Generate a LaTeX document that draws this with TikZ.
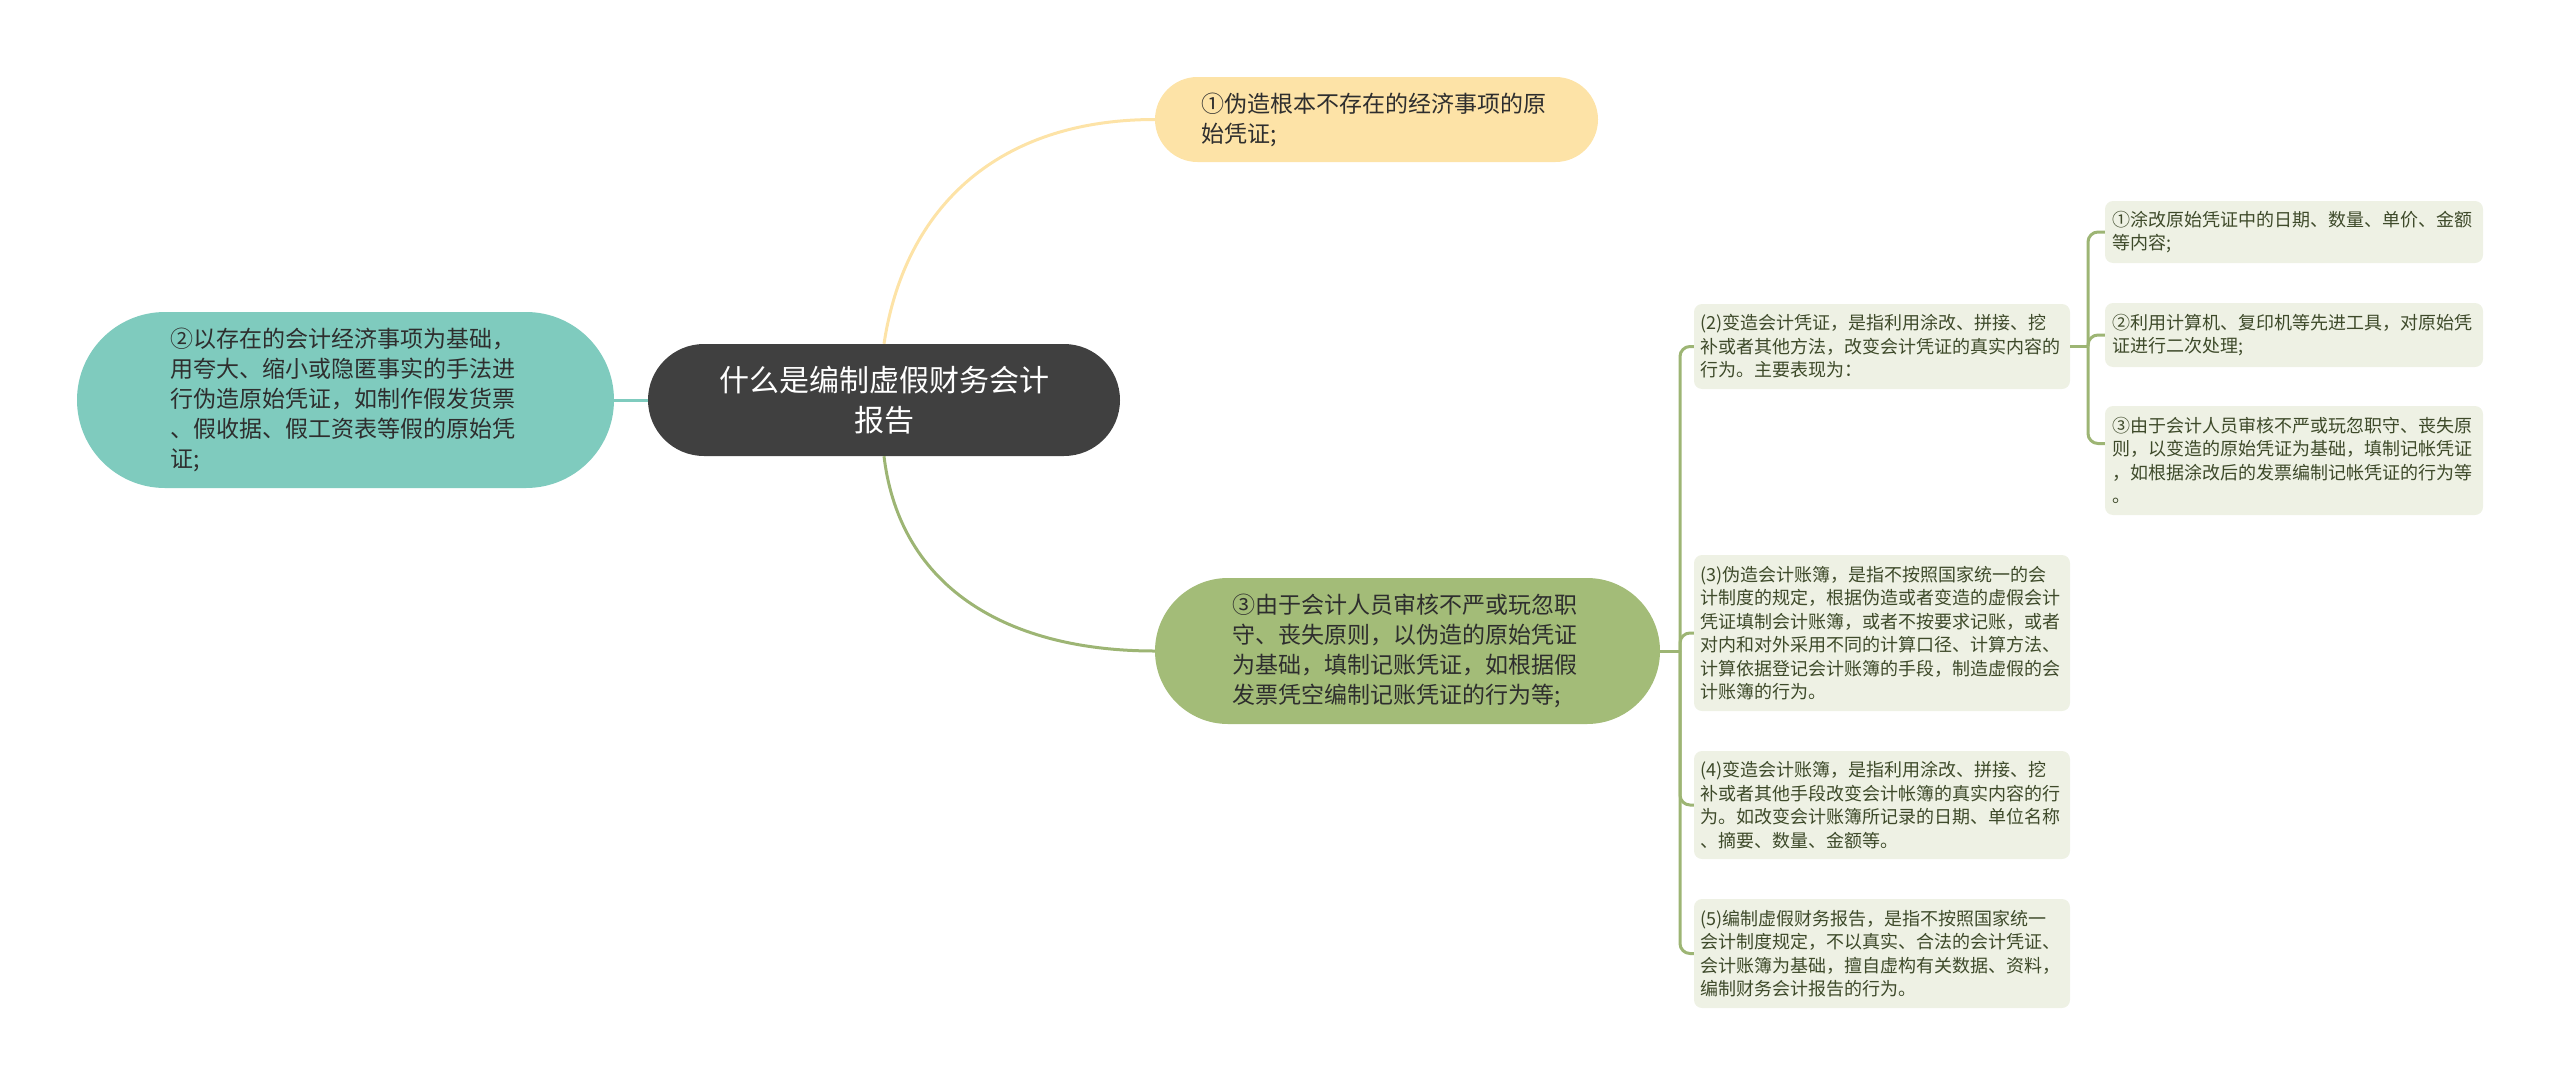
\documentclass[tikz,border=0pt]{standalone}
\usepackage{fontspec}
\setmainfont{Noto Sans CJK SC}
\definecolor{rootfill}{HTML}{404040}
\definecolor{yelfill}{HTML}{FDE3A7}
\definecolor{tealfill}{HTML}{7FCBBE}
\definecolor{grnfill}{HTML}{A3BC78}
\definecolor{grnline}{HTML}{9DB574}
\definecolor{leaffill}{HTML}{EEF1E4}
\definecolor{leaftext}{HTML}{3E4A2A}
\definecolor{darktext}{HTML}{2E2E2E}
\tikzset{
  rootbox/.style={fill=rootfill, text=white, inner sep=0pt, align=center,
    font=\fontsize{30pt}{40pt}\selectfont},
  branchbox/.style={inner sep=0pt, align=left, text=darktext, text width=350pt,
    font=\fontsize{23pt}{30pt}\selectfont},
  leafbox/.style={fill=leaffill, rounded corners=8pt, inner sep=0pt, align=left,
    text=leaftext, text width=364pt, minimum width=376pt,
    font=\fontsize{18pt}{23.5pt}\selectfont},
  conn/.style={line width=3pt},
}
\begin{document}
\begin{tikzpicture}[x=1pt,y=-1pt]
\useasboundingbox (0,0) rectangle (2560,1087);
% root
\node[rootbox, minimum width=472pt, minimum height=112pt, rounded corners=56pt] (root) at (884,400)
  {什么是编制虚假财务会计\\报告};
% branches
\node[branchbox, fill=yelfill, minimum width=443pt, minimum height=85pt, rounded corners=42.5pt] (b1) at (1376.5,119.5)
  {①伪造根本不存在的经济事项的原\\始凭证;};
\node[branchbox, fill=tealfill, minimum width=537pt, minimum height=176pt, rounded corners=88pt] (b2) at (345.5,400)
  {②以存在的会计经济事项为基础，\\用夸大、缩小或隐匿事实的手法进\\行伪造原始凭证，如制作假发货票\\、假收据、假工资表等假的原始凭\\证;};
\node[branchbox, fill=grnfill, minimum width=505pt, minimum height=146pt, rounded corners=73pt] (b3) at (1407.5,651)
  {③由于会计人员审核不严或玩忽职\\守、丧失原则，以伪造的原始凭证\\为基础，填制记账凭证，如根据假\\发票凭空编制记账凭证的行为等;};
% leaves
\node[leafbox, minimum height=85pt] (l2) at (1882,346.5)
  {(2)变造会计凭证，是指利用涂改、拼接、挖\\补或者其他方法，改变会计凭证的真实内容的\\行为。主要表现为：};
\node[leafbox, minimum width=378pt, minimum height=62pt] (s1) at (2294,232)
  {①涂改原始凭证中的日期、数量、单价、金额\\等内容;};
\node[leafbox, minimum width=378pt, minimum height=64pt] (s2) at (2294,335)
  {②利用计算机、复印机等先进工具，对原始凭\\证进行二次处理;};
\node[leafbox, minimum width=378pt, minimum height=109pt] (s3) at (2294,460.5)
  {③由于会计人员审核不严或玩忽职守、丧失原\\则，以变造的原始凭证为基础，填制记帐凭证\\，如根据涂改后的发票编制记帐凭证的行为等\\。};
\node[leafbox, minimum height=156pt] (l3) at (1882,633)
  {(3)伪造会计账簿，是指不按照国家统一的会\\计制度的规定，根据伪造或者变造的虚假会计\\凭证填制会计账簿，或者不按要求记账，或者\\对内和对外采用不同的计算口径、计算方法、\\计算依据登记会计账簿的手段，制造虚假的会\\计账簿的行为。};
\node[leafbox, minimum height=108pt] (l4) at (1882,805)
  {(4)变造会计账簿，是指利用涂改、拼接、挖\\补或者其他手段改变会计帐簿的真实内容的行\\为。如改变会计账簿所记录的日期、单位名称\\、摘要、数量、金额等。};
\node[leafbox, minimum height=109pt] (l5) at (1882,953.5)
  {(5)编制虚假财务报告，是指不按照国家统一\\会计制度规定，不以真实、合法的会计凭证、\\会计账簿为基础，擅自虚构有关数据、资料，\\编制财务会计报告的行为。};
% junctions
\coordinate (j1) at (1680,651);
\coordinate (j2) at (2088,346.5);
% connectors
\draw[conn, yelfill] (root.north) .. controls (905,205) and (1000,119.5) .. (b1.west);
\draw[conn, tealfill] (root.west) -- (b2.east);
\draw[conn, grnline] (root.south) .. controls (900,590) and (1010,651) .. (b3.west);
\draw[conn, grnline] (b3.east) -- (j1);
\foreach \n in {l2,l3,l4,l5}
  \draw[conn, grnline, rounded corners=10pt] (j1) |- (\n.west);
\draw[conn, grnline] (l2.east) -- (j2);
\draw[conn, grnline, rounded corners=10pt] (j2) |- (s1.west);
\draw[conn, grnline, rounded corners=10pt] (j2) |- (s2.west);
\draw[conn, grnline, rounded corners=10pt] (j2) |- ([yshift=17pt]s3.west);
\end{tikzpicture}
\end{document}
